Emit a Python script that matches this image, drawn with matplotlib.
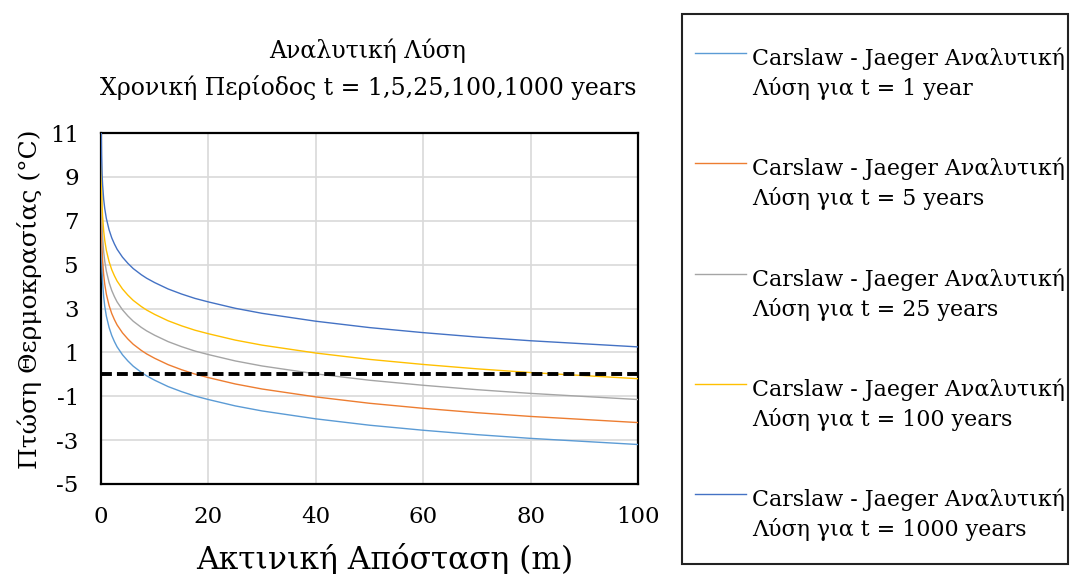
import matplotlib.pyplot as plt
from matplotlib.patches import Rectangle
from matplotlib.lines import Line2D

# radial distance (m)
r_m = [0.001, 0.01, 0.05, 0.1, 0.2, 0.3, 0.5, 0.7, 1, 1.5, 2, 2.5, 3, 4, 5, 6,
       7.5, 8.5, 10, 12.5, 15, 17.5, 20, 25, 30, 40, 50, 60, 70, 80, 90, 100]

# temperature drop (°C) for each time period
dT_1y = [11.42, 8.50, 6.45, 5.57, 4.69, 4.18, 3.53, 3.10, 2.65, 2.14, 1.77, 1.49,
         1.25, 0.89, 0.61, 0.37, 0.09, -0.07, -0.27, -0.56, -0.79, -0.99, -1.15,
         -1.44, -1.67, -2.03, -2.32, -2.55, -2.75, -2.92, -3.06, -3.20]
dT_5y = [12.42, 9.50, 7.45, 6.57, 5.69, 5.18, 4.53, 4.10, 3.65, 3.14, 2.77, 2.49,
         2.25, 1.89, 1.61, 1.37, 1.09, 0.93, 0.73, 0.44, 0.21, 0.01, -0.15,
         -0.44, -0.67, -1.03, -1.32, -1.55, -1.75, -1.92, -2.06, -2.20]
dT_25y = [13.47, 10.55, 8.50, 7.62, 6.74, 6.23, 5.58, 5.15, 4.70, 4.19, 3.82, 3.54,
          3.30, 2.94, 2.66, 2.42, 2.14, 1.98, 1.78, 1.49, 1.26, 1.06, 0.90,
          0.61, 0.38, 0.02, -0.27, -0.50, -0.70, -0.87, -1.01, -1.15]
dT_100y = [14.42, 11.50, 9.45, 8.57, 7.69, 7.18, 6.53, 6.10, 5.65, 5.14, 4.77, 4.49,
           4.25, 3.89, 3.61, 3.37, 3.09, 2.93, 2.73, 2.44, 2.21, 2.01, 1.85,
           1.56, 1.33, 0.97, 0.68, 0.45, 0.25, 0.08, -0.06, -0.20]
dT_1000y = [15.87, 12.95, 10.90, 10.02, 9.14, 8.63, 7.98, 7.55, 7.10, 6.59, 6.22, 5.94,
            5.70, 5.34, 5.06, 4.82, 4.54, 4.38, 4.18, 3.89, 3.66, 3.46, 3.30,
            3.01, 2.78, 2.42, 2.13, 1.90, 1.70, 1.53, 1.39, 1.25]

zero_x = [0, 100]
zero_y = [0, 0]

labels = [
    'Carslaw - Jaeger Αναλυτική\nΛύση για t = 1 year',
    'Carslaw - Jaeger Αναλυτική\nΛύση για t = 5 years',
    'Carslaw - Jaeger Αναλυτική\nΛύση για t = 25 years',
    'Carslaw - Jaeger Αναλυτική\nΛύση για t = 100 years',
    'Carslaw - Jaeger Αναλυτική\nΛύση για t = 1000 years',
]
colors = ['#5B9BD5', '#ED7D31', '#A5A5A5', '#FFC000', '#4472C4']

x_ticks = [0, 20, 40, 60, 80, 100]
y_ticks = [-5, -3, -1, 1, 3, 5, 7, 9, 11]

plt.rcParams['font.family'] = ['DejaVu Serif']
plt.rcParams['axes.unicode_minus'] = False

W, H = 1072, 574


def fx(px):
    return px / W


def fy(py):
    return 1 - py / H


fig = plt.figure(figsize=(W / 100, H / 100), dpi=100)
ax = fig.add_axes([fx(101), fy(484), (638 - 101) / W, (484 - 133) / H])

series = [dT_1y, dT_5y, dT_25y, dT_100y, dT_1000y]
lines = []
for ys, c in zip(series, colors):
    ln, = ax.plot(r_m, ys, color=c, linewidth=1.0, zorder=3)
    lines.append(ln)

ax.plot(zero_x, zero_y, color='black', linewidth=2.8, dashes=(2.8, 1.3),
        dash_capstyle='butt', zorder=4)

ax.set_xlim(0, 100)
ax.set_ylim(-5, 11)
ax.set_xticks(x_ticks)
ax.set_yticks(y_ticks)
ax.grid(True, color='#d9d9d9', linewidth=1.2, zorder=0)
ax.set_axisbelow(True)
ax.tick_params(length=0, labelsize=16.5)
ax.tick_params(axis='x', pad=16)
ax.tick_params(axis='y', pad=16)
for s in ax.spines.values():
    s.set_linewidth(1.6)
    s.set_color('black')

ax.set_xlabel('Ακτινική Απόσταση (m)', fontsize=22.5)
ax.xaxis.label.set_verticalalignment('baseline')
ax.xaxis.set_label_coords((385 - 101) / 537, (484 - 569) / 351)
ax.set_ylabel('Πτώση Θερμοκρασίας (°C)', fontsize=18)
ax.yaxis.label.set_verticalalignment('center')
ax.yaxis.set_label_coords((30 - 101) / 537, (484 - 299) / 351)

fig.text(fx(368), fy(58), 'Αναλυτική Λύση', ha='center', va='baseline', fontsize=17)
fig.text(fx(368), fy(95), 'Χρονική Περίοδος t = 1,5,25,100,1000 years',
         ha='center', va='baseline', fontsize=17)

# legend box drawn by hand so the key line sits on the first text line
fig.patches.append(Rectangle((fx(682), fy(564)), (1068 - 682) / W, (564 - 14) / H,
                             transform=fig.transFigure, fill=False,
                             edgecolor='#222222', linewidth=1.5))
for i, (ln, lab) in enumerate(zip(lines, labels)):
    yh = 53 + 110.3 * i
    fig.add_artist(Line2D([fx(695), fx(746)], [fy(yh), fy(yh)],
                          color=ln.get_color(), linewidth=1.0))
    first, second = lab.split('\n')
    fig.text(fx(752), fy(yh + 12), first, ha='left', va='baseline', fontsize=15.9)
    fig.text(fx(752), fy(yh + 42), second, ha='left', va='baseline', fontsize=15.9)

fig.savefig('out.png', dpi=100)
